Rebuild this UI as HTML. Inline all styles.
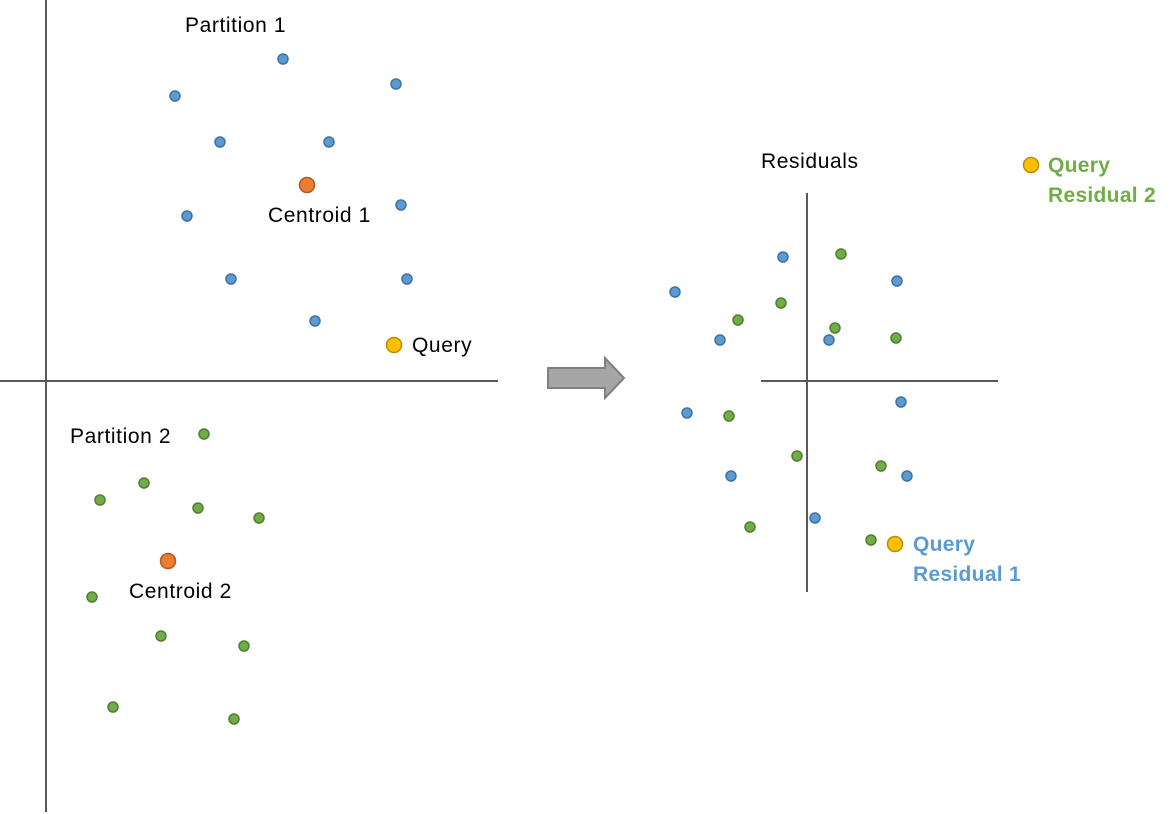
<!DOCTYPE html>
<html><head><style>body{margin:0;background:#fff}svg{display:block}text{font-family:"Liberation Sans",sans-serif;font-size:21px;letter-spacing:0.6px;fill:#000}text.b{font-weight:bold;font-size:21px;letter-spacing:0.3px}</style></head>
<body>
<svg width="1171" height="814" viewBox="0 0 1171 814">
<g stroke="#595959" stroke-width="2">
<line x1="46" y1="0" x2="46" y2="812"/><line x1="0" y1="381" x2="498" y2="381"/>
<line x1="807" y1="193" x2="807" y2="592"/><line x1="761" y1="381" x2="998" y2="381"/>
</g>
<polygon points="548,368 605,368 605,358 624,378 605,398 605,388 548,388" fill="#a6a6a6" stroke="#7f7f7f" stroke-width="2"/>
<g fill="#5b9bd5" stroke="#41719c" stroke-width="1.5">
<circle cx="283" cy="59" r="5"/><circle cx="175" cy="96" r="5"/><circle cx="396" cy="84" r="5"/><circle cx="220" cy="142" r="5"/><circle cx="329" cy="142" r="5"/><circle cx="187" cy="216" r="5"/><circle cx="401" cy="205" r="5"/><circle cx="231" cy="279" r="5"/><circle cx="407" cy="279" r="5"/><circle cx="315" cy="321" r="5"/>
<circle cx="783" cy="257" r="5"/><circle cx="897" cy="281" r="5"/><circle cx="675" cy="292" r="5"/><circle cx="720" cy="340" r="5"/><circle cx="829" cy="340" r="5"/><circle cx="901" cy="402" r="5"/><circle cx="687" cy="413" r="5"/><circle cx="731" cy="476" r="5"/><circle cx="907" cy="476" r="5"/><circle cx="815" cy="518" r="5"/>
</g>
<g fill="#70ad47" stroke="#507e32" stroke-width="1.5">
<circle cx="204" cy="434" r="5"/><circle cx="144" cy="483" r="5"/><circle cx="100" cy="500" r="5"/><circle cx="198" cy="508" r="5"/><circle cx="259" cy="518" r="5"/><circle cx="92" cy="597" r="5"/><circle cx="161" cy="636" r="5"/><circle cx="244" cy="646" r="5"/><circle cx="113" cy="707" r="5"/><circle cx="234" cy="719" r="5"/>
<circle cx="841" cy="254" r="5"/><circle cx="781" cy="303" r="5"/><circle cx="738" cy="320" r="5"/><circle cx="835" cy="328" r="5"/><circle cx="896" cy="338" r="5"/><circle cx="729" cy="416" r="5"/><circle cx="797" cy="456" r="5"/><circle cx="881" cy="466" r="5"/><circle cx="750" cy="527" r="5"/><circle cx="871" cy="540" r="5"/>
</g>
<g fill="#ed7d31" stroke="#ae5a21" stroke-width="1.5"><circle cx="307" cy="185" r="7.5"/><circle cx="168" cy="561" r="7.5"/></g>
<g fill="#ffc000" stroke="#bc8c00" stroke-width="1.5"><circle cx="394" cy="345" r="7.5"/><circle cx="895" cy="544" r="7.5"/><circle cx="1031" cy="165" r="7.5"/></g>
<text x="185" y="32">Partition 1</text>
<text x="268" y="222">Centroid 1</text>
<text x="412" y="352">Query</text>
<text x="70" y="443">Partition 2</text>
<text x="129" y="598">Centroid 2</text>
<text x="761" y="168">Residuals</text>
<text class="b" x="1048" y="172" style="fill:#70ad47">Query</text>
<text class="b" x="1048" y="202" style="fill:#70ad47">Residual 2</text>
<text class="b" x="913" y="551" style="fill:#5b9bd5">Query</text>
<text class="b" x="913" y="581" style="fill:#5b9bd5">Residual 1</text>
</svg>
</body></html>
